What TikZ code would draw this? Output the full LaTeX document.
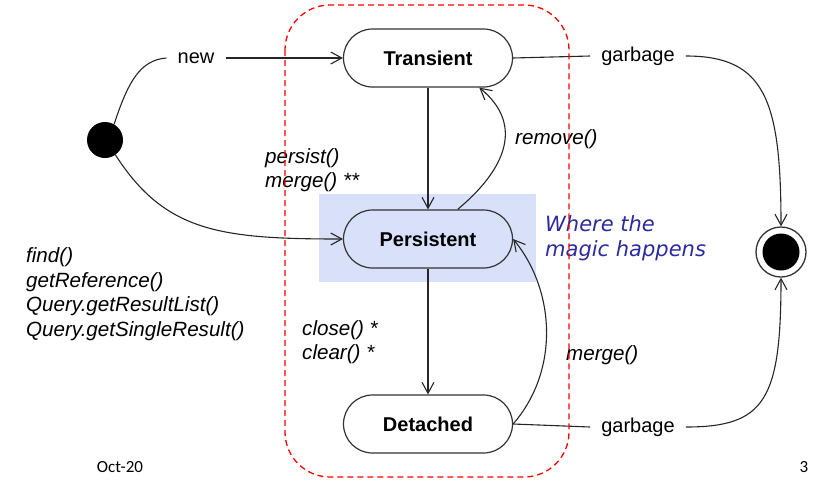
\documentclass[tikz,border=0pt]{standalone}
\usepackage{fontspec}
\setmainfont{Liberation Sans}
\newfontfamily\magicfont{DejaVu Sans}
\newfontfamily\footfont{Carlito}
\usetikzlibrary{arrows.meta, positioning, calc}
\tikzstyle{arrow} = [line width=1.1pt, draw=black!85, ->, >={Straight Barb[length=11pt, width=12pt]}]
\definecolor{highlight}{RGB}{216,224,250}
\definecolor{magicblue}{RGB}{43,43,160}

\begin{document}
\begin{tikzpicture}[x=1pt, y=-1pt,
    stateblock/.style={rectangle, rounded corners=29pt, draw=black!80, line width=1.2pt, minimum width=169pt, minimum height=58pt, font=\fontsize{20}{24}\selectfont\bfseries},
    edgelabel/.style={inner xsep=11pt, inner ysep=2pt, font=\fontsize{20}{24}\selectfont},
    callnote/.style={align=left, anchor=west, inner sep=0pt, font=\fontsize{20.6}{24.5}\selectfont\itshape},
    plainline/.style={line width=1.1pt, draw=black!85},
]
\useasboundingbox (0,0) rectangle (821,491);

% Highlight behind Persistent
\fill[highlight] (319,194) rectangle (536,282);

% States
\node[stateblock] (transient) at (428,58) {Transient};
\node[stateblock] (persistent) at (428,239) {Persistent};
\node[stateblock] (detached) at (428,424) {Detached};

% Initial and final states
\node[circle, fill=black, minimum size=36pt, inner sep=0pt] (start) at (105,140) {};
\node[circle, draw=black!80, line width=1.3pt, minimum size=50pt, inner sep=0pt] (final) at (781,252) {};
\node[circle, fill=black, minimum size=37pt, inner sep=0pt] (finaldot) at (final) {};

% Edge labels
\node[edgelabel] (new) at (196,58) {new};
\node[edgelabel] (garbtop) at (638,56) {garbage};
\node[edgelabel] (garbbot) at (638,427) {garbage};

% Transitions
\draw[plainline] (start.60) .. controls (128,82) and (140,60) .. (new.west);
\draw[arrow] (new.east) -- (transient.west);
\draw[arrow] (start.-55) .. controls (165,232) and (220,239) .. (persistent.west);
\draw[arrow] (transient) -- (persistent);
\draw[arrow] (persistent.45) .. controls (505,170) and (525,125) .. (transient.-30);
\draw[arrow] (persistent) -- (detached);
\draw[arrow] (detached.east) .. controls (560,370) and (555,290) .. (persistent.east);
\draw[plainline] (transient.east) -- (garbtop.west);
\draw[arrow] (garbtop.east) .. controls (765,56) and (781,100) .. (final.north);
\draw[plainline] (detached.east) -- (garbbot.west);
\draw[arrow] (garbbot.east) .. controls (765,427) and (781,400) .. (final.south);

% Method calls
\node[callnote] (persistcall) at (265,170) {persist()\\merge() **};
\node[callnote] (removecall) at (515,139) {remove()};
\node[callnote] (closecall) at (302,342) {close() *\\clear() *};
\node[callnote] (mergecall) at (566,355) {merge()};
\node[callnote] (findcall) at (26,294) {find()\\getReference()\\Query.getResultList()\\Query.getSingleResult()};
\node[callnote, text=magicblue, font=\fontsize{21}{25}\selectfont\magicfont\itshape] (magic) at (545,238) {Where the\\magic happens};

% Footer
\node[font=\footfont\fontsize{17}{20}\selectfont] (date) at (120,467) {Oct-20};
\node[font=\footfont\fontsize{17}{20}\selectfont] (page) at (804,467) {3};

% Managed area
\draw[red, dash pattern=on 6pt off 4pt, line width=1.3pt, rounded corners=45pt] (285,5) rectangle (569,477);

\end{tikzpicture}
\end{document}
